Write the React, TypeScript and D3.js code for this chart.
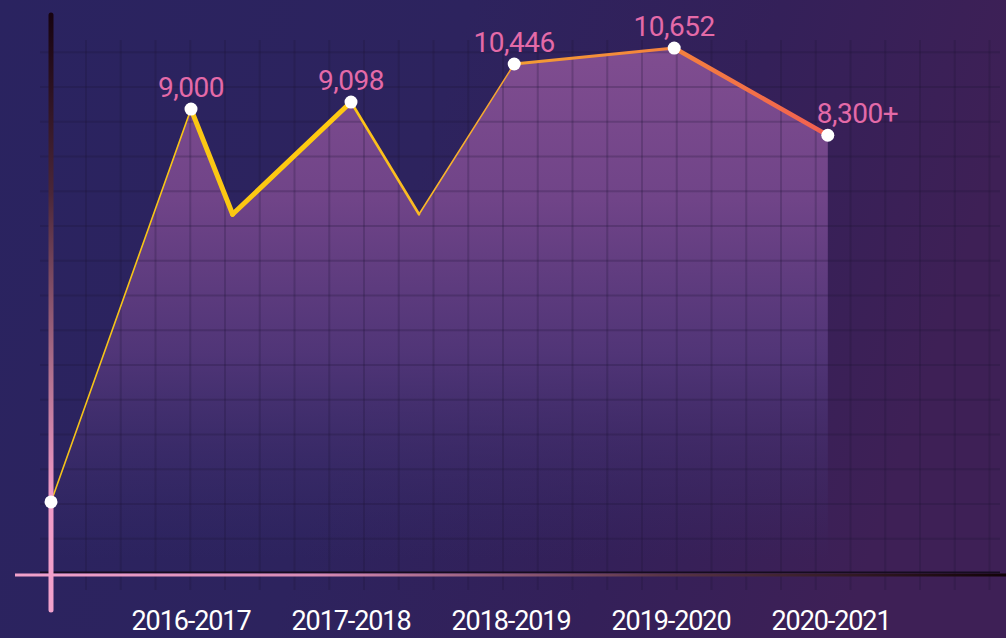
import React from "react";
import * as d3 from "d3";

// ---- data ----
const categories = ["2016-2017", "2017-2018", "2018-2019", "2019-2020", "2020-2021"];
// x position of each point, in category-index units (dips sit between seasons)
const pointIndex = [-0.875, 0, 0.26, 1, 1.425, 2.02, 3.02, 3.98];
// plotted values
const pointValues = [-1640, 9000, 6150, 9190, 6150, 10220, 10652, 8290];
// labels printed above the points ("" = no label)
const pointLabels = ["", "9,000", "", "9,098", "", "10,446", "10,652", "8,300+"];
const showDot = [true, true, false, true, false, true, true, true];

// ---- style ----
const W = 1006;
const H = 638;
const segWidths = [1.6, 5, 5, 2.6, 1.6, 3, 4.5];

export default function App() {
  const x = d3.scaleLinear().domain([0, 4]).range([191, 831]);
  const y = d3.scaleLinear().domain([-3620, 10870]).range([575, 40]);

  const pts = pointIndex.map((p, i) => [x(p), y(pointValues[i])] as [number, number]);

  const areaGen = d3
    .area<[number, number]>()
    .x((d) => d[0])
    .y0(575)
    .y1((d) => d[1]);
  const areaPath = areaGen(pts) || "";

  const step = 34.75;
  const vLines = d3.range(86, 1004, step);
  const hLines = d3.range(52.2, 580, step);

  return (
    <svg
      width={W}
      height={H}
      style={{ position: "absolute", left: 0, top: 0, display: "block" }}
      fontFamily="Roboto, 'Open Sans', sans-serif"
    >
      <defs>
        <linearGradient id="bg" x1="0" y1="0" x2="1" y2="0.2">
          <stop offset="0" stopColor="#2a2360" />
          <stop offset="0.45" stopColor="#2d235e" />
          <stop offset="0.75" stopColor="#342059" />
          <stop offset="1" stopColor="#3e2056" />
        </linearGradient>
        <linearGradient id="fill" gradientUnits="userSpaceOnUse" x1="0" y1="45" x2="0" y2="560">
          <stop offset="0" stopColor="#804d90" />
          <stop offset="0.3" stopColor="#704488" />
          <stop offset="0.6" stopColor="#54377a" stopOpacity="0.9" />
          <stop offset="1" stopColor="#3a2d6a" stopOpacity="0" />
        </linearGradient>
        <linearGradient id="lineGrad" gradientUnits="userSpaceOnUse" x1="51" y1="0" x2="830" y2="0">
          <stop offset="0" stopColor="#f4c21a" />
          <stop offset="0.35" stopColor="#ffcb0f" />
          <stop offset="0.5" stopColor="#f9b52a" />
          <stop offset="0.62" stopColor="#f39a35" />
          <stop offset="0.8" stopColor="#f4813e" />
          <stop offset="1" stopColor="#f25f52" />
        </linearGradient>
        <linearGradient id="yAxisGrad" gradientUnits="userSpaceOnUse" x1="0" y1="13" x2="0" y2="612">
          <stop offset="0" stopColor="#170310" />
          <stop offset="0.3" stopColor="#4a2638" />
          <stop offset="0.6" stopColor="#b0708e" />
          <stop offset="0.8" stopColor="#f09ac6" />
          <stop offset="1" stopColor="#f2a2cc" />
        </linearGradient>
        <linearGradient id="xAxisGrad" gradientUnits="userSpaceOnUse" x1="15" y1="0" x2="1006" y2="0">
          <stop offset="0" stopColor="#f2a2cc" />
          <stop offset="0.3" stopColor="#d98cb5" />
          <stop offset="0.65" stopColor="#5a3548" />
          <stop offset="1" stopColor="#120308" />
        </linearGradient>
      </defs>

      <rect width={W} height={H} fill="url(#bg)" />

      <path d={areaPath} fill="url(#fill)" />

      {/* grid */}
      <g stroke="#1a1030" strokeOpacity={0.22} strokeWidth={2}>
        {vLines.map((vx) => (
          <line key={"v" + vx} x1={vx} x2={vx} y1={40} y2={590} />
        ))}
        {hLines.map((hy) => (
          <line key={"h" + hy} x1={40} x2={1000} y1={hy} y2={hy} />
        ))}
      </g>

      {/* line segments */}
      <g fill="none" stroke="url(#lineGrad)" strokeLinejoin="round" strokeLinecap="round">
        {pts.slice(0, -1).map((p, i) => (
          <line
            key={"s" + i}
            x1={p[0]}
            y1={p[1]}
            x2={pts[i + 1][0]}
            y2={pts[i + 1][1]}
            strokeWidth={segWidths[i]}
          />
        ))}
      </g>

      {/* axes */}
      <line x1={40} x2={1000} y1={572.3} y2={572.3} stroke="#160c20" strokeWidth={1.6} />
      <line x1={15} x2={1006} y1={575} y2={575} stroke="url(#xAxisGrad)" strokeWidth={3} />
      <line x1={51} x2={51} y1={15} y2={610} stroke="url(#yAxisGrad)" strokeWidth={5} strokeLinecap="round" />

      {/* dots */}
      {pts.map((p, i) =>
        showDot[i] ? <circle key={"c" + i} cx={p[0]} cy={p[1]} r={6.5} fill="#ffffff" /> : null
      )}

      {/* value labels */}
      {pts.map((p, i) => {
        if (!pointLabels[i]) return null;
        const last = i === pts.length - 1;
        return (
          <text
            key={"l" + i}
            x={last ? p[0] - 11 : p[0]}
            y={p[1] - 12}
            textAnchor={last ? "start" : "middle"}
            fill="#e46aa8"
            fontSize={28}
            letterSpacing={-0.5}
          >
            {pointLabels[i]}
          </text>
        );
      })}

      {/* category labels */}
      {categories.map((c, i) => (
        <text
          key={c}
          x={x(i)}
          y={630}
          textAnchor="middle"
          fill="#ffffff"
          fontSize={27}
          letterSpacing={-1.1}
        >
          {c}
        </text>
      ))}
    </svg>
  );
}
